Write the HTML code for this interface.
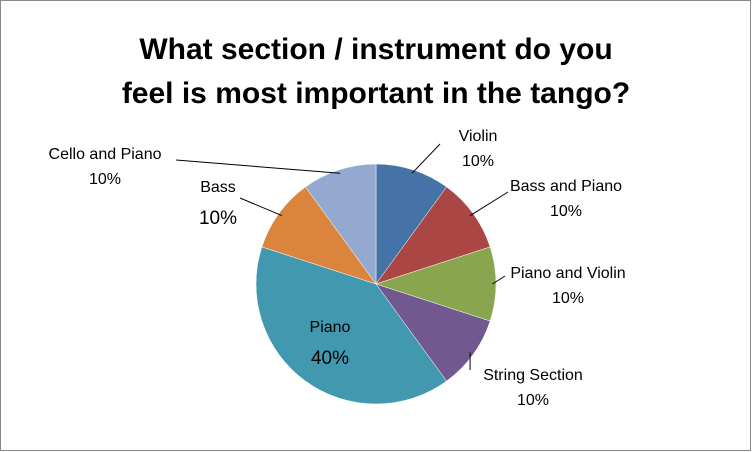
<!DOCTYPE html>
<html><head><meta charset="utf-8">
<style>
html,body{margin:0;padding:0;background:#fff;}
svg{display:block;font-family:"Liberation Sans",sans-serif;}
</style></head>
<body>
<svg id="chart" width="752" height="452" viewBox="0 0 752 452">
<rect x="0.5" y="0.5" width="750" height="450" fill="#fff" stroke="#888"/>
<text x="376" y="59" text-anchor="middle" font-size="30" font-weight="bold" fill="#000">What section / instrument do you</text>
<text x="376" y="103" text-anchor="middle" font-size="30" font-weight="bold" fill="#000">feel is most important in the tango?</text>
<g id="slices"></g>
<g id="labels" font-size="16" fill="#000"></g>
</svg>
<script>
const categories = ["Violin","Bass and Piano","Piano and Violin","String Section","Piano","Bass","Cello and Piano"];
const values = [10,10,10,10,40,10,10];
const valueLabels = ["10%","10%","10%","10%","40%","10%","10%"];
const colors = ["#4572A7","#AA4643","#89A54E","#71588F","#4198AF","#DB843D","#93A9CF"];
const cx=376, cy=284, r=120;
const NS="http://www.w3.org/2000/svg";
const total=values.reduce((a,b)=>a+b,0);
const gS=document.getElementById('slices'), gL=document.getElementById('labels');
function pt(a,rr){return [cx+rr*Math.sin(a), cy-rr*Math.cos(a)];}
const labelPos=[
 {x:478,y:141,anchor:"middle",lx:440,ly:144,inside:false},
 {x:566,y:191,anchor:"middle",lx:508,ly:192,inside:false},
 {x:568,y:278,anchor:"middle",lx:505,ly:276,inside:false},
 {x:533,y:380,anchor:"middle",lx:470,ly:370,inside:false},
 {x:330,y:332,anchor:"middle",inside:true,big:true},
 {x:218,y:192,anchor:"middle",lx:240,ly:198,inside:false,big:true},
 {x:105,y:159,anchor:"middle",lx:176,ly:160,inside:false}
];
let a0=0;
values.forEach((v,i)=>{
  const a1=a0+v/total*2*Math.PI;
  const [x0,y0]=pt(a0,r),[x1,y1]=pt(a1,r);
  const large=(a1-a0)>Math.PI?1:0;
  const p=document.createElementNS(NS,'path');
  p.setAttribute('d',`M${cx},${cy} L${x0},${y0} A${r},${r} 0 ${large} 1 ${x1},${y1} Z`);
  p.setAttribute('fill',colors[i]);
  p.setAttribute('stroke','#fff');
  p.setAttribute('stroke-width','0.5');
  
  
  gS.appendChild(p);
  const L=labelPos[i];
  const mid=(a0+a1)/2;
  if(!L.inside){
    const [ex,ey]=pt(mid,r*0.97);
    const ln=document.createElementNS(NS,'polyline');
    ln.setAttribute('points',`${ex},${ey} ${L.lx},${L.ly}`);
    ln.setAttribute('stroke','#000');ln.setAttribute('fill','none');ln.setAttribute('stroke-width','1');
    
    
    gL.appendChild(ln);
  }
  const t1=document.createElementNS(NS,'text');
  t1.setAttribute('x',L.x);t1.setAttribute('y',L.y);t1.setAttribute('text-anchor',L.anchor);
  t1.textContent=categories[i];
  
  
  gL.appendChild(t1);
  const t2=document.createElementNS(NS,'text');
  t2.setAttribute('x',L.x);t2.setAttribute('y',L.y+(L.big?32:25));t2.setAttribute('text-anchor',L.anchor);
  if(L.big)t2.setAttribute('font-size','19');
  t2.textContent=valueLabels[i];
  
  
  gL.appendChild(t2);
  a0=a1;
});
</script>
</body></html>
